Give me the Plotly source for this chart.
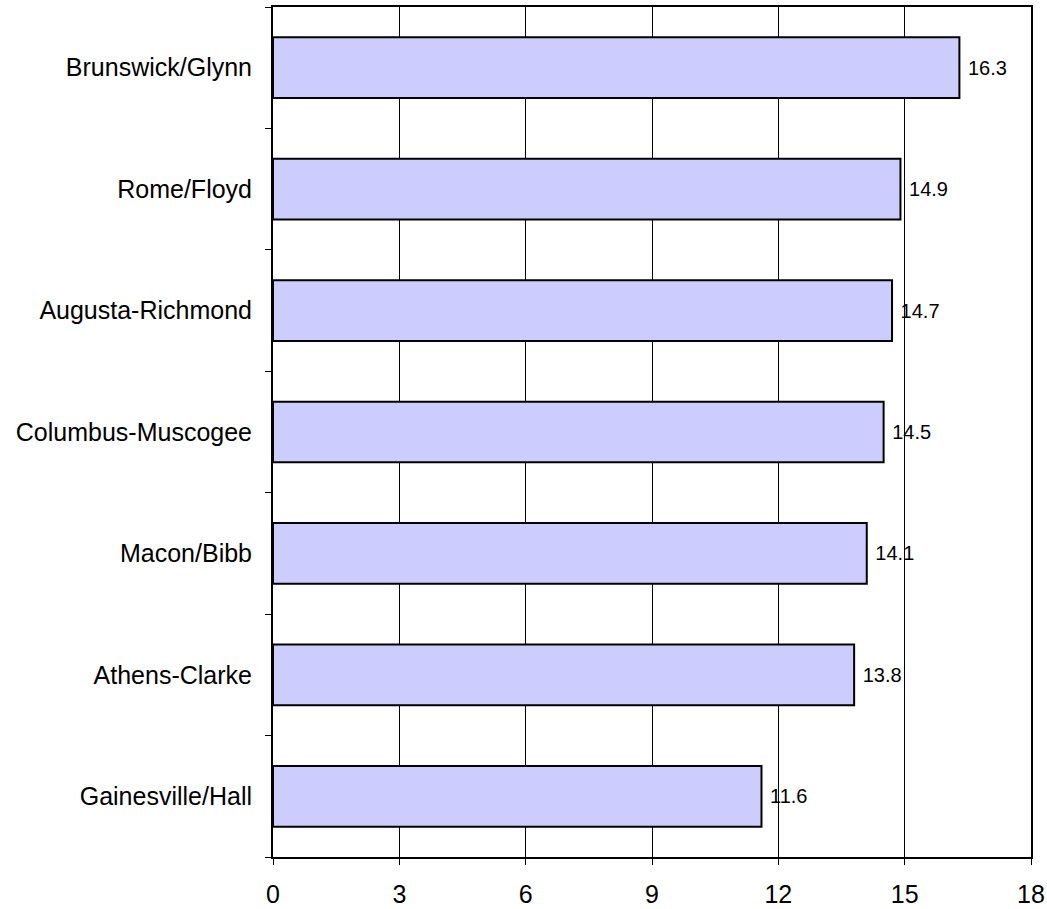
import plotly.graph_objects as go

# County areas, listed bottom to top as drawn
areas = ["Gainesville/Hall", "Athens-Clarke", "Macon/Bibb", "Columbus-Muscogee",
         "Augusta-Richmond", "Rome/Floyd", "Brunswick/Glynn"]
values = [11.6, 13.8, 14.1, 14.5, 14.7, 14.9, 16.3]
x_ticks = [0, 3, 6, 9, 12, 15, 18]

fig = go.Figure(go.Bar(
    y=areas,
    x=values,
    orientation="h",
    marker=dict(color="#ccccff", line=dict(color="black", width=2)),
    text=[f" {v:.1f}" for v in values],
    textposition="outside",
    textfont=dict(family="Liberation Sans, Arial", size=20, color="black"),
    cliponaxis=False,
    width=0.5,
))

fig.update_layout(
    width=1047, height=909,
    margin=dict(l=273, r=16, t=7, b=52),
    paper_bgcolor="white", plot_bgcolor="white",
    font=dict(family="Liberation Sans, Arial", color="black"),
    showlegend=False,
    uniformtext=dict(minsize=20, mode="show"),
)
fig.update_xaxes(
    range=[0, 18], tickvals=x_ticks, automargin=False,
    showgrid=True, gridcolor="black", gridwidth=1,
    showline=True, linecolor="black", linewidth=1.5, mirror=True,
    ticks="outside", ticklen=6, tickcolor="black",
    tickfont=dict(size=25), ticklabelstandoff=8, zeroline=False,
)
fig.update_yaxes(
    categoryorder="array", categoryarray=areas, automargin=False,
    showline=True, linecolor="black", linewidth=2, mirror=True,
    ticks="outside", ticklen=6, tickcolor="black", tickson="boundaries",
    tickfont=dict(size=25), ticklabelstandoff=14, showgrid=False,
)

fig.write_html("out.html")
